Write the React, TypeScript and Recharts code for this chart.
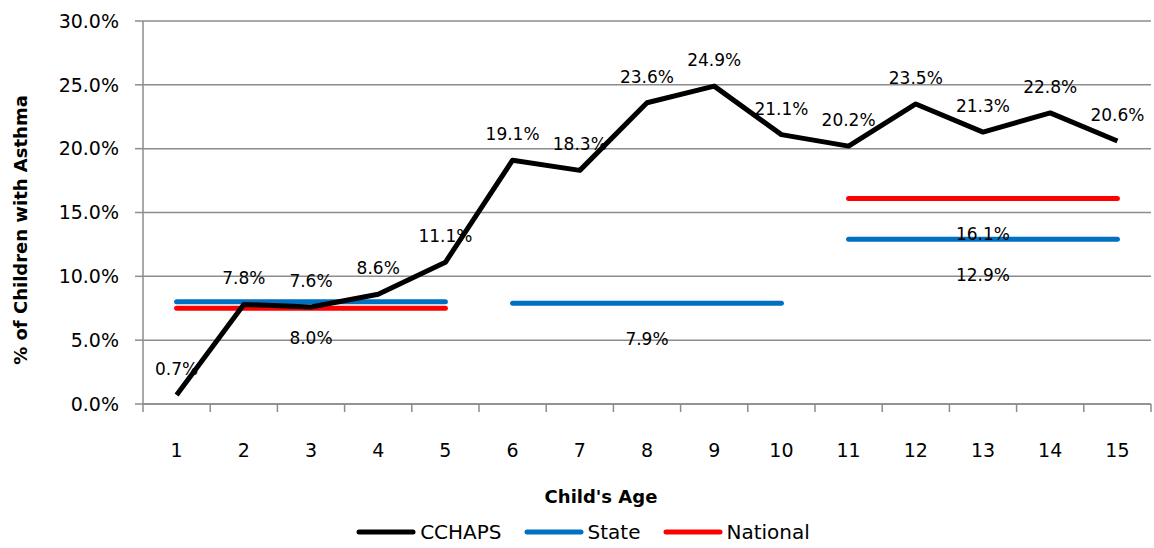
import React from 'react';
import { LineChart, Line, XAxis, YAxis, CartesianGrid, Legend, LabelList } from 'recharts';

const ages = ['1', '2', '3', '4', '5', '6', '7', '8', '9', '10', '11', '12', '13', '14', '15'];
const cchaps = [0.7, 7.8, 7.6, 8.6, 11.1, 19.1, 18.3, 23.6, 24.9, 21.1, 20.2, 23.5, 21.3, 22.8, 20.6];
// state / national benchmarks are reported per age band (1-5, 6-10, 11-15)
const stateA = [8.0, 8.0, 8.0, 8.0, 8.0, null, null, null, null, null, null, null, null, null, null];
const stateB = [null, null, null, null, null, 7.9, 7.9, 7.9, 7.9, 7.9, null, null, null, null, null];
const stateC = [null, null, null, null, null, null, null, null, null, null, 12.9, 12.9, 12.9, 12.9, 12.9];
const nationalA = [7.5, 7.5, 7.5, 7.5, 7.5, null, null, null, null, null, null, null, null, null, null];
const nationalC = [null, null, null, null, null, null, null, null, null, null, 16.1, 16.1, 16.1, 16.1, 16.1];
const yTicks = [0, 5, 10, 15, 20, 25, 30];

const data = ages.map((age, i) => ({
  age,
  cchaps: cchaps[i],
  stateA: stateA[i],
  stateB: stateB[i],
  stateC: stateC[i],
  nationalA: nationalA[i],
  nationalC: nationalC[i],
}));

const W = 1154;
const H = 548;
const xAxisHeight = 102;
const legendHeight = 30;
const margin = { top: 21, right: 3, bottom: 144 - xAxisHeight - legendHeight, left: 0 };
const yAxisWidth = 143;
const band = (W - margin.left - margin.right - yAxisWidth) / ages.length;
const FONT = '"DejaVu Sans", sans-serif';
const GRID = '#8c8c8c';

const pct = (v: number) => `${Number(v).toFixed(1)}%`;

// tick marks sit on band boundaries, labels in the middle
const AgeTick = (props: any) => {
  const { x, y, payload, index } = props;
  const left = x - band / 2;
  const top = y - 8;
  return (
    <g>
      <line x1={left} y1={top} x2={left} y2={top + 8} stroke={GRID} strokeWidth={1.5} />
      {index === ages.length - 1 && (
        <line x1={x + band / 2} y1={top} x2={x + band / 2} y2={top + 8} stroke={GRID} strokeWidth={1.5} />
      )}
      <text x={x} y={top + 53} textAnchor="middle" fontSize={19} fill="#000" fontFamily={FONT}>
        {payload.value}
      </text>
    </g>
  );
};

const bandLabel = (at: number) => (props: any) => {
  const { x, y, value, index } = props;
  if (index !== at || value == null) return null;
  return (
    <text x={x} y={y + 42} textAnchor="middle" fontSize={17} fill="#000" fontFamily={FONT}>
      {pct(value)}
    </text>
  );
};

const YTitle = () => (
  <text
    x={20}
    y={230}
    transform="rotate(-90, 20, 230)"
    textAnchor="middle"
    dominantBaseline="central"
    fontSize={18}
    fontWeight="bold"
    fill="#000"
    fontFamily={FONT}
  >
    % of Children with Asthma
  </text>
);

const legendItems = [
  { name: 'CCHAPS', color: '#000000' },
  { name: 'State', color: '#0070C0' },
  { name: 'National', color: '#FF0000' },
];

const renderLegend = () => (
  <div style={{ display: 'flex', justifyContent: 'center', paddingLeft: 34, fontFamily: FONT, fontSize: 20, color: '#000', lineHeight: '24px' }}>
    {legendItems.map((it) => (
      <div key={it.name} style={{ display: 'flex', alignItems: 'center', marginRight: 22 }}>
        <svg width={60} height={10} style={{ marginRight: 4 }}>
          <line x1={3} y1={5} x2={57} y2={5} stroke={it.color} strokeWidth={5} strokeLinecap="round" />
        </svg>
        <span>{it.name}</span>
      </div>
    ))}
  </div>
);

export default function App() {
  return (
    <div style={{ position: 'absolute', left: 0, top: 0, width: W, height: H, background: '#fff' }}>
      <LineChart width={W} height={H} data={data} margin={margin} style={{ fontFamily: FONT }}>
        <CartesianGrid vertical={false} stroke={GRID} strokeWidth={1.5} />
        <XAxis
          dataKey="age"
          axisLine={{ stroke: GRID, strokeWidth: 1.5 }}
          tickLine={false}
          tick={<AgeTick />}
          interval={0}
          padding={{ left: band / 2, right: band / 2 }}
          height={xAxisHeight}
          label={{ value: "Child's Age", position: 'insideBottom', offset: 0, dx: -46, dy: -3, fontSize: 18, fontWeight: 'bold', fill: '#000' }}
        />
        <YAxis
          width={yAxisWidth}
          domain={[0, 30]}
          ticks={yTicks}
          tickFormatter={pct}
          tick={{ fill: '#000', fontSize: 19 }}
          tickSize={8}
          tickMargin={16}
          tickLine={{ stroke: GRID, strokeWidth: 1.5 }}
          axisLine={{ stroke: GRID, strokeWidth: 1.5 }}
          label={{ content: () => <YTitle /> }}
        />
        <Legend verticalAlign="bottom" height={legendHeight} content={renderLegend} wrapperStyle={{ left: 0, top: 520, width: W }} />
        <Line dataKey="stateA" stroke="#0070C0" strokeWidth={5} strokeLinecap="round" dot={false} isAnimationActive={false}>
          <LabelList dataKey="stateA" content={bandLabel(2)} />
        </Line>
        <Line dataKey="stateB" stroke="#0070C0" strokeWidth={5} strokeLinecap="round" dot={false} isAnimationActive={false}>
          <LabelList dataKey="stateB" content={bandLabel(7)} />
        </Line>
        <Line dataKey="stateC" stroke="#0070C0" strokeWidth={5} strokeLinecap="round" dot={false} isAnimationActive={false}>
          <LabelList dataKey="stateC" content={bandLabel(12)} />
        </Line>
        <Line dataKey="nationalA" stroke="#FF0000" strokeWidth={5} strokeLinecap="round" dot={false} isAnimationActive={false} />
        <Line dataKey="nationalC" stroke="#FF0000" strokeWidth={5} strokeLinecap="round" dot={false} isAnimationActive={false}>
          <LabelList dataKey="nationalC" content={bandLabel(12)} />
        </Line>
        <Line dataKey="cchaps" stroke="#000" strokeWidth={5} strokeLinejoin="round" dot={false} isAnimationActive={false}>
          <LabelList dataKey="cchaps" position="top" offset={20} formatter={(v: any) => pct(v)} fontSize={17} fill="#000" />
        </Line>
      </LineChart>
    </div>
  );
}
